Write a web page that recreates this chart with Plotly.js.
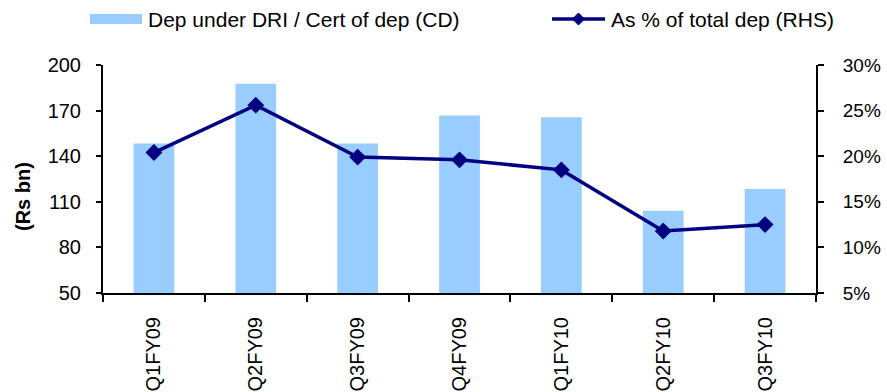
<!DOCTYPE html>
<html>
<head>
<meta charset="utf-8">
<script src="https://cdn.plot.ly/plotly-3.0.1.min.js"></script>
<style>
  html, body { margin: 0; padding: 0; background: #fff; }
  #chart { width: 887px; height: 392px; }
</style>
</head>
<body>
<div id="chart"></div>
<script>
// Quarterly deposits under DRI / certificates of deposit
const quarters = ['Q1FY09', 'Q2FY09', 'Q3FY09', 'Q4FY09', 'Q1FY10', 'Q2FY10', 'Q3FY10'];
const depositsRsBn = [148.3, 187.7, 148.3, 166.8, 165.6, 104.1, 118.5];
const shareOfTotalPct = [20.4, 25.6, 19.9, 19.6, 18.5, 11.8, 12.5];

const leftTicks = [50, 80, 110, 140, 170, 200];
const rightTicks = [5, 10, 15, 20, 25, 30];
const rightTickText = rightTicks.map(v => v + '%');

const barName = 'Dep under DRI / Cert of dep (CD)';
const lineName = 'As % of total dep (RHS)';

const FONT = '"Liberation Sans", Arial, sans-serif';
const BAR_COLOR = '#99CCFF';
const LINE_COLOR = '#000080';

const traces = [
  {
    type: 'bar',
    name: barName,
    x: quarters,
    y: depositsRsBn,
    marker: { color: BAR_COLOR },
    width: 0.4,
    showlegend: false
  },
  {
    type: 'scatter',
    mode: 'lines+markers',
    name: lineName,
    x: quarters,
    y: shareOfTotalPct,
    yaxis: 'y2',
    line: { color: LINE_COLOR, width: 3.5 },
    marker: { symbol: 'diamond', size: 13, color: LINE_COLOR },
    showlegend: false,
    cliponaxis: false
  }
];

// Plot frame in pixels; legend and axis title are placed relative to it
const plotL = 103, plotR = 816, plotT = 65, plotB = 293;
const pw = plotR - plotL, ph = plotB - plotT;
const px = v => (v - plotL) / pw;
const py = v => (plotB - v) / ph;

// Legend row drawn above the plot
const shapes = [
  { type: 'rect', xref: 'paper', yref: 'paper', x0: px(90), x1: px(142), y0: py(24), y1: py(14),
    fillcolor: BAR_COLOR, line: { width: 0 } },
  { type: 'line', xref: 'paper', yref: 'paper', x0: px(552), x1: px(605), y0: py(19), y1: py(19),
    line: { color: LINE_COLOR, width: 3.5 } },
  { type: 'path', xref: 'paper', yref: 'paper',
    path: `M ${px(578.5)} ${py(13)} L ${px(584.5)} ${py(19)} L ${px(578.5)} ${py(25)} L ${px(572.5)} ${py(19)} Z`,
    fillcolor: LINE_COLOR, line: { color: LINE_COLOR, width: 1 } }
];

const annotations = [
  { xref: 'paper', yref: 'paper', x: px(146), y: py(20), xanchor: 'left', yanchor: 'middle',
    text: barName, showarrow: false, font: { family: FONT, size: 21, color: '#000' } },
  { xref: 'paper', yref: 'paper', x: px(609), y: py(20), xanchor: 'left', yanchor: 'middle',
    text: lineName, showarrow: false, font: { family: FONT, size: 21, color: '#000' } },
  { xref: 'paper', yref: 'paper', x: px(23), y: py(197), xanchor: 'center', yanchor: 'middle',
    text: '<b>(Rs bn)</b>', textangle: -90, showarrow: false,
    font: { family: FONT, size: 20, color: '#000' } }
];

const axisCommon = {
  showline: true, linecolor: '#000', linewidth: 2,
  ticks: 'outside', tickwidth: 2, tickcolor: '#000',
  tickfont: { family: FONT, size: 20, color: '#000' },
  showgrid: false, zeroline: false,
  fixedrange: true
};

const layout = {
  width: 887,
  height: 392,
  margin: { l: plotL, r: 887 - plotR, t: plotT, b: 392 - plotB, pad: 0 },
  paper_bgcolor: '#fff',
  plot_bgcolor: '#fff',
  font: { family: FONT, size: 20, color: '#000' },
  showlegend: false,
  xaxis: Object.assign({}, axisCommon, {
    type: 'category',
    tickson: 'boundaries', ticklen: 7,
    tickangle: -90,
    ticklabelstandoff: 14
  }),
  yaxis: Object.assign({}, axisCommon, {
    range: [50, 200],
    tickvals: leftTicks,
    ticklen: 5,
    ticklabelstandoff: 11
  }),
  yaxis2: Object.assign({}, axisCommon, {
    overlaying: 'y',
    side: 'right',
    range: [5, 30],
    tickvals: rightTicks,
    ticktext: rightTickText,
    ticklen: 6,
    ticklabelstandoff: 15,
    tickfont: { family: FONT, size: 19, color: '#000' }
  }),
  shapes: shapes,
  annotations: annotations
};

Plotly.newPlot('chart', traces, layout, { displayModeBar: false, staticPlot: true });
</script>
</body>
</html>
